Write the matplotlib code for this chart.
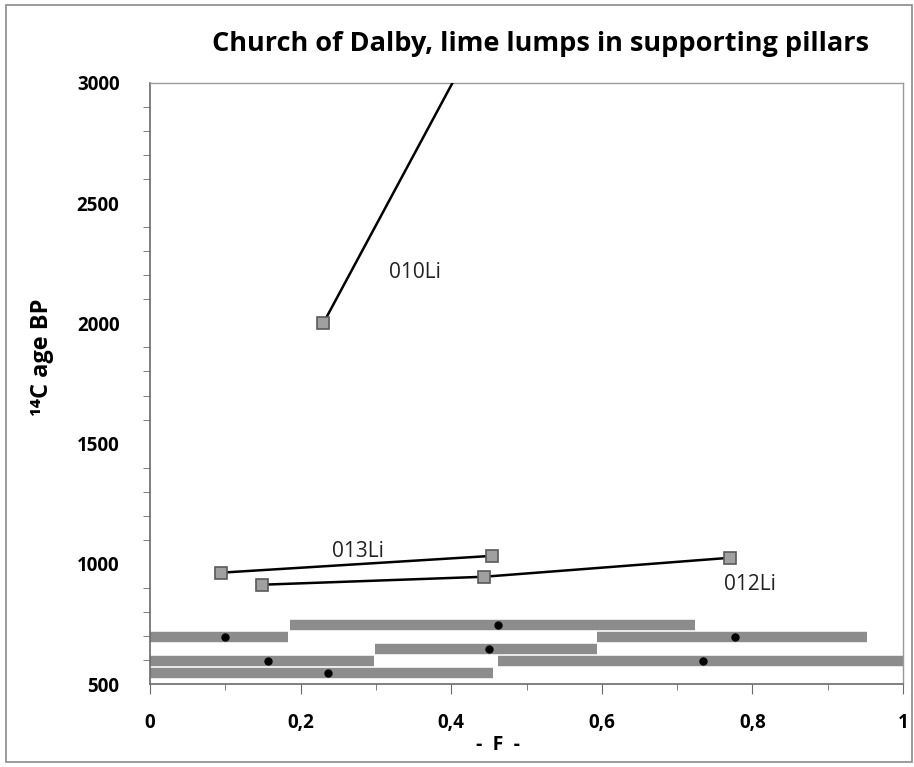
import matplotlib.pyplot as plt
from matplotlib.patches import Rectangle
from matplotlib.ticker import MultipleLocator, FuncFormatter

# sample series (F, 14C age BP)
f_010 = [0.23, 0.46]
age_010 = [2000, 3340]
f_013 = [0.094, 0.454]
age_013 = [963, 1033]
f_012 = [0.149, 0.443, 0.770]
age_012 = [913, 946, 1025]

# calibrated ranges shown as horizontal bars: start, end, centre, level
bar_start = [0.186, 0.0, 0.593, 0.299, 0.0, 0.462, 0.0]
bar_end = [0.724, 0.183, 0.952, 0.593, 0.297, 1.0, 0.456]
bar_mid = [0.462, 0.100, 0.777, 0.450, 0.157, 0.734, 0.236]
bar_level = [745, 695, 695, 645, 596, 596, 546]

plt.rcParams['font.family'] = ['Open Sans', 'DejaVu Sans']

fig = plt.figure(figsize=(9.14, 7.67), dpi=100)
ax = fig.add_axes([150/914, 1-684/767, 753/914, 601/767])

# outer chart border
fig.patches.append(Rectangle((6/914, 5/767), 906/914, 757/767, transform=fig.transFigure,
                             fill=False, edgecolor='#8a8a8a', lw=1.2))

for s, e, m, lv in zip(bar_start, bar_end, bar_mid, bar_level):
    ax.hlines(lv, s, e, color='#8c8c8c', lw=7.5, zorder=2)
    ax.plot(m, lv, marker='o', ms=5, color='black', mec='black', zorder=3, clip_on=False)

mk = dict(color='black', lw=1.8, marker='s', ms=8, mfc='#a0a0a0', mec='#5a5a5a', mew=1.2)
ax.plot(f_010, age_010, **mk, zorder=4)
ax.plot(f_013, age_013, **mk, zorder=4)
ax.plot(f_012, age_012, **mk, zorder=4)

ax.text(0.3525, 2210, '010Li', fontsize=15, ha='center', va='center', color='#222222')
ax.text(0.276, 1050, '013Li', fontsize=15, ha='center', va='center', color='#222222')
ax.text(0.797, 915, '012Li', fontsize=15, ha='center', va='center', color='#222222')

ax.set_xlim(0, 1)
ax.set_ylim(500, 3000)
ax.xaxis.set_major_locator(MultipleLocator(0.2))
ax.xaxis.set_minor_locator(MultipleLocator(0.1))
ax.yaxis.set_major_locator(MultipleLocator(500))
ax.yaxis.set_minor_locator(MultipleLocator(100))
ax.xaxis.set_major_formatter(FuncFormatter(lambda v, p: ('%g' % round(v, 1)).replace('.', ',')))

for sp in ['top', 'right']:
    ax.spines[sp].set_color('#9a9a9a')
    ax.spines[sp].set_linewidth(1.0)
for sp in ['left', 'bottom']:
    ax.spines[sp].set_color('#6a6a6a')
    ax.spines[sp].set_linewidth(1.2)

ax.tick_params(axis='x', which='major', length=7, color='#6a6a6a', pad=14, labelsize=13.5)
ax.tick_params(axis='x', which='minor', length=4, color='#6a6a6a')
ax.tick_params(axis='y', which='major', length=0, pad=22, labelsize=13.5)
ax.tick_params(axis='y', which='minor', length=5, color='#6a6a6a')
for lab in ax.get_xticklabels() + ax.get_yticklabels():
    lab.set_fontweight('bold')

fig.text(498/914, 1-745/767, '-  F  -', fontsize=14, fontweight='bold', ha='center', va='center')
fig.text(42/914, 1-357/767, '¹⁴C age BP', fontsize=17, fontweight='bold', rotation=90,
         ha='center', va='center')

fig.text(540/914, 1-44/767, 'Church of Dalby, lime lumps in supporting pillars',
         fontsize=19.5, fontweight='bold', ha='center', va='center')

fig.savefig('out.png', dpi=100)
